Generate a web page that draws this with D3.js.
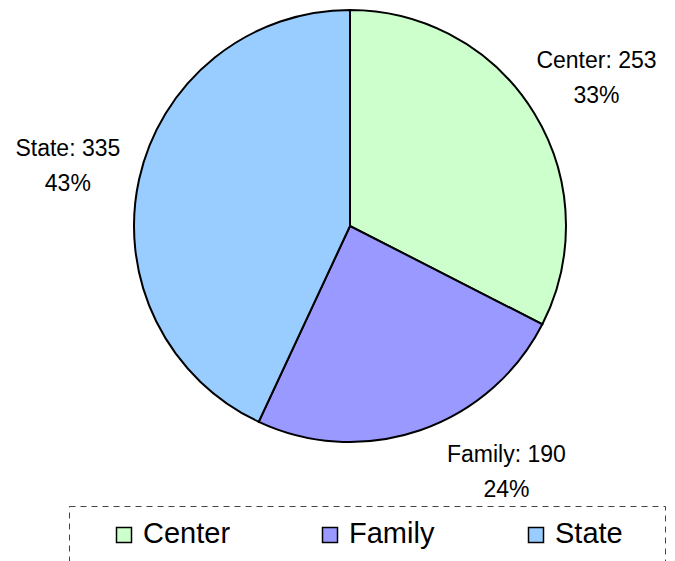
<!DOCTYPE html>
<html>
<head>
<meta charset="utf-8">
<script src="https://cdn.jsdelivr.net/npm/d3@7"></script>
<style>
  body { margin: 0; background: #fff; }
  svg text { font-family: Arial, "Liberation Sans", sans-serif; fill: #000; }
</style>
</head>
<body>
<div id="container"></div>
<script>
// chart data
var categories = ["Center", "Family", "State"];
var values = [253, 190, 335];
var colors = ["#CCFFCC", "#9999FF", "#99CCFF"];

(function()
{
	var width = 675, height = 561;
	var cx = 350, cy = 226, radius = 216;
	var labelRadius = 289;
	var legendX = 69, legendY = 506, legendW = 596, legendH = 70;

	var svg = d3.select("#container").append("svg")
		.attr("width", width)
		.attr("height", height);

	var total = d3.sum(values);
	var slices = categories.map(function(c, i) { return { name: c, value: values[i], color: colors[i] }; });

	var pie = d3.pie().sort(null).value(function(d) { return d.value; });
	var arc = d3.arc().innerRadius(0).outerRadius(radius);
	var arcs = pie(slices);

	var g = svg.append("g").attr("transform", "translate(" + cx + "," + cy + ")");

	// slices
	g.selectAll("path.slice")
		.data(arcs)
		.enter().append("path")
		.attr("class", "slice")
		.attr("d", arc)
		.attr("fill", function(d) { return d.data.color; })
		.attr("stroke", "#000")
		.attr("stroke-width", 2);

	// label position: on a circle around the pie, slid along it if it would hit the legend
	function labelPos(d)
	{
		var a = (d.startAngle + d.endAngle) / 2;
		var x = Math.sin(a) * labelRadius;
		var y = -Math.cos(a) * labelRadius;
		var maxY = legendY - cy - 37;
		if (y > maxY) {
			y = maxY;
			x = (Math.sin(a) >= 0 ? 1 : -1) * Math.sqrt(labelRadius * labelRadius - y * y);
		}
		return [x, y];
	}

	var labels = g.selectAll("text.label")
		.data(arcs)
		.enter().append("text")
		.attr("class", "label")
		.attr("text-anchor", "middle")
		.style("font-size", "23px")
		.attr("transform", function(d) { return "translate(" + labelPos(d) + ")"; });
	labels.append("tspan")
		.attr("x", 0).attr("y", -7)
		.text(function(d) { return d.data.name + ": " + d.data.value; });
	labels.append("tspan")
		.attr("x", 0).attr("y", 28)
		.text(function(d) { return Math.round(d.data.value / total * 100) + "%"; });

	// legend
	svg.append("rect")
		.attr("x", legendX + 0.5).attr("y", legendY + 0.5)
		.attr("width", legendW).attr("height", legendH)
		.attr("fill", "none")
		.attr("stroke", "#444")
		.attr("stroke-width", 1)
		.attr("stroke-dasharray", "6,5");

	var legendScale = d3.scalePoint().domain(categories).range([116, 528]);
	var items = svg.selectAll("g.legend")
		.data(slices)
		.enter().append("g")
		.attr("class", "legend")
		.attr("transform", function(d) { return "translate(" + legendScale(d.name) + "," + 527 + ")"; });
	items.append("rect")
		.attr("x", 0.5).attr("y", 0.5)
		.attr("width", 15).attr("height", 15)
		.attr("fill", function(d) { return d.color; })
		.attr("stroke", "#000")
		.attr("stroke-width", 1.5);
	items.append("text")
		.attr("x", 27).attr("y", 16)
		.style("font-size", "29px")
		.text(function(d) { return d.name; });
})();
</script>
</body>
</html>
